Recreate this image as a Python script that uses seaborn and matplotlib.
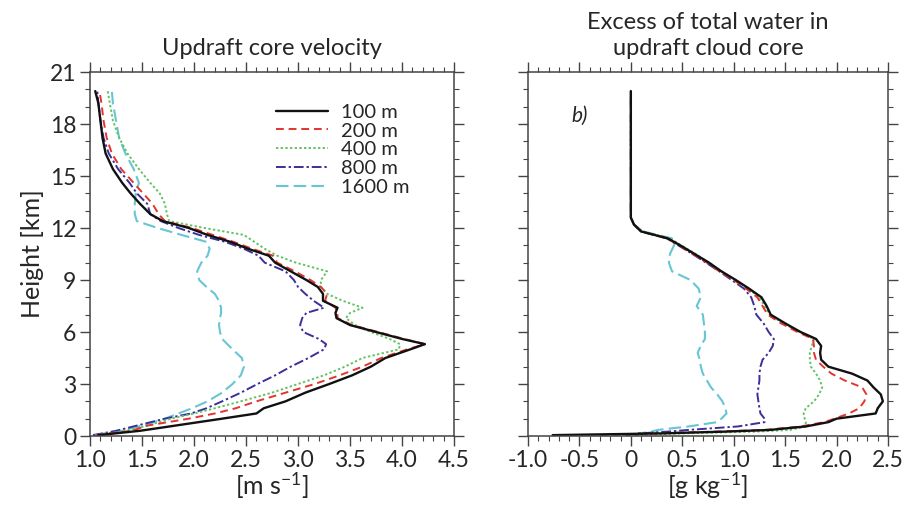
"""
Updraft core profiles for five grid resolutions: core velocity and excess total water.
"""
import numpy as np
import pandas as pd
import matplotlib
matplotlib.use("Agg")
import matplotlib.pyplot as plt
from matplotlib.ticker import MultipleLocator
import seaborn as sns

# ---- data ----
RES = ["100 m", "200 m", "400 m", "800 m", "1600 m"]

# left panel: height levels [km] and updraft core velocity [m s-1]
Z_LEFT = [0.05, 0.3, 0.6, 1.0, 1.3, 1.6, 2.0, 2.5, 3.0, 3.5, 4.0, 4.5, 5.0, 5.3, 5.6,
          6.0, 6.4, 6.8, 7.1, 7.4, 7.8, 8.2, 8.6, 9.0, 9.5, 10.0, 10.4, 10.8, 11.2, 11.6,
          12.0, 12.4, 12.8, 13.4, 14.0, 14.6, 15.4, 16.3, 17.2, 18.2, 19.2, 19.9]
W_100 = [1.08, 1.48, 1.82, 2.27, 2.60, 2.67, 2.88, 3.07, 3.30, 3.52, 3.70, 3.84, 4.08, 4.22, 4.00,
         3.75, 3.50, 3.37, 3.36, 3.38, 3.24, 3.24, 3.19, 3.08, 2.93, 2.78, 2.72, 2.52, 2.35, 2.13,
         1.95, 1.70, 1.58, 1.48, 1.39, 1.31, 1.22, 1.15, 1.12, 1.10, 1.08, 1.05]
W_200 = [1.06, 1.40, 1.55, 1.95, 2.20, 2.40, 2.60, 2.88, 3.16, 3.40, 3.62, 3.80, 4.05, 4.22, 4.02,
         3.77, 3.52, 3.38, 3.38, 3.36, 3.26, 3.28, 3.22, 3.12, 2.97, 2.80, 2.76, 2.56, 2.38, 2.18,
         1.98, 1.72, 1.66, 1.60, 1.51, 1.42, 1.30, 1.21, 1.16, 1.13, 1.11, 1.09]
W_400 = [1.05, 1.35, 1.55, 1.78, 2.00, 2.20, 2.45, 2.75, 3.00, 3.25, 3.45, 3.62, 3.97, 3.98, 3.88,
         3.70, 3.55, 3.46, 3.50, 3.62, 3.43, 3.28, 3.22, 3.22, 3.28, 2.98, 2.80, 2.68, 2.58, 2.48,
         2.10, 1.76, 1.74, 1.72, 1.67, 1.58, 1.47, 1.36, 1.28, 1.22, 1.19, 1.17]
W_800 = [1.03, 1.25, 1.45, 1.72, 1.97, 2.12, 2.27, 2.45, 2.61, 2.78, 2.93, 3.10, 3.25, 3.27, 3.20,
         3.05, 3.02, 3.04, 3.08, 3.25, 3.15, 3.07, 3.00, 2.96, 2.88, 2.68, 2.62, 2.48, 2.30, 2.05,
         1.85, 1.68, 1.58, 1.55, 1.45, 1.38, 1.27, 1.18, 1.13, 1.10, 1.08, 1.07]
W_1600 = [1.03, 1.30, 1.50, 1.72, 1.85, 1.98, 2.13, 2.27, 2.37, 2.45, 2.48, 2.46, 2.37, 2.32, 2.27,
          2.25, 2.24, 2.25, 2.26, 2.26, 2.24, 2.20, 2.12, 2.05, 2.03, 2.07, 2.13, 2.15, 2.12, 1.88,
          1.65, 1.45, 1.43, 1.43, 1.44, 1.47, 1.42, 1.34, 1.28, 1.25, 1.22, 1.21]

# right panel: height levels [km] and excess total water [g kg-1]
Z_RIGHT = [0.05, 0.15, 0.25, 0.35, 0.55, 0.8, 1.0, 1.3, 1.6, 2.0, 2.4, 2.8, 3.2, 3.6, 4.0,
           4.4, 4.8, 5.2, 5.6, 6.0, 6.5, 7.0, 7.5, 8.0, 8.5, 9.0, 9.5, 10.0, 10.5, 11.0,
           11.4, 11.8, 12.2, 12.6, 14.0, 16.0, 18.0, 19.9]
Q_100 = [-0.76, 0.30, 0.90, 1.35, 1.70, 1.92, 2.00, 2.38, 2.40, 2.45, 2.43, 2.36, 2.30, 2.15, 1.92,
         1.85, 1.84, 1.85, 1.80, 1.65, 1.50, 1.36, 1.32, 1.27, 1.15, 1.02, 0.88, 0.76, 0.62, 0.48,
         0.36, 0.10, 0.03, 0.0, 0.0, 0.0, 0.0, 0.0]
Q_200 = [-0.30, 0.20, 0.80, 1.30, 1.65, 1.88, 1.98, 2.12, 2.22, 2.27, 2.29, 2.25, 2.08, 1.95, 1.87,
         1.80, 1.78, 1.78, 1.77, 1.62, 1.46, 1.33, 1.28, 1.23, 1.12, 1.00, 0.86, 0.74, 0.60, 0.47,
         0.35, 0.10, 0.03, 0.0, 0.0, 0.0, 0.0, 0.0]
Q_400 = [0.05, 0.50, 1.20, 1.55, 1.70, 1.70, 1.69, 1.68, 1.70, 1.78, 1.83, 1.86, 1.84, 1.80, 1.75,
         1.74, 1.74, 1.76, 1.78, 1.64, 1.48, 1.35, 1.30, 1.25, 1.14, 1.01, 0.88, 0.76, 0.63, 0.49,
         0.38, 0.12, 0.03, 0.0, 0.0, 0.0, 0.0, 0.0]
Q_800 = [-0.05, 0.08, 0.35, 0.56, 1.04, 1.30, 1.30, 1.26, 1.25, 1.24, 1.23, 1.24, 1.25, 1.25, 1.26,
         1.28, 1.34, 1.38, 1.39, 1.34, 1.29, 1.22, 1.20, 1.17, 1.10, 0.98, 0.86, 0.73, 0.60, 0.46,
         0.35, 0.10, 0.03, 0.0, 0.0, 0.0, 0.0, 0.0]
Q_1600 = [0.03, 0.08, 0.20, 0.26, 0.56, 0.84, 0.88, 0.93, 0.92, 0.89, 0.84, 0.78, 0.74, 0.70, 0.68,
          0.67, 0.65, 0.68, 0.72, 0.72, 0.71, 0.70, 0.64, 0.68, 0.66, 0.58, 0.40, 0.37, 0.38, 0.42,
          0.40, 0.12, 0.03, 0.0, 0.0, 0.0, 0.0, 0.0]

COLORS = ["#111111", "#e3342f", "#63c363", "#3b2f9a", "#66c6d3"]
DASHES = ["-", (0, (4, 2.5)), (0, (1.2, 1.2)), (0, (5, 1.5, 1.2, 1.5)), (0, (6, 2.5))]
WIDTHS = [1.7, 1.4, 1.4, 1.4, 1.5]

FONT = ["Lato", "DejaVu Sans"]


def long_frame(z, series):
    rows = []
    for name, vals in zip(RES, series):
        rows.append(pd.DataFrame({"height": z, "value": vals, "res": name}))
    return pd.concat(rows, ignore_index=True)


def style_axis(ax, xlim, xticks, xlabels, show_y):
    ax.set_xlim(*xlim)
    ax.set_ylim(0, 21)
    ax.set_xticks(xticks)
    ax.set_xticklabels(xlabels)
    ax.set_yticks(np.arange(0, 22, 3))
    ax.xaxis.set_minor_locator(MultipleLocator(0.1))
    ax.yaxis.set_minor_locator(MultipleLocator(1))
    ax.tick_params(which="both", direction="out", top=True, right=True,
                   color="#444444", labelsize=16.5, pad=3)
    ax.tick_params(which="major", length=7, width=1.0)
    ax.tick_params(which="minor", length=3.5, width=0.8)
    if not show_y:
        ax.tick_params(axis="y", labelleft=False)
    for sp in ax.spines.values():
        sp.set_visible(True)
        sp.set_color("#444444")
        sp.set_linewidth(1.1)


def main():
    sns.set_style("ticks")
    plt.rcParams["font.family"] = FONT
    plt.rcParams["mathtext.default"] = "regular"
    plt.rcParams["axes.unicode_minus"] = False

    fig = plt.figure(figsize=(9.03, 5.18), dpi=100)
    ax1 = fig.add_axes([0.0997, 0.1583, 0.4031, 0.7027])
    ax2 = fig.add_axes([0.5847, 0.1583, 0.3987, 0.7027])

    left = long_frame(Z_LEFT, [W_100, W_200, W_400, W_800, W_1600])
    right = long_frame(Z_RIGHT, [Q_100, Q_200, Q_400, Q_800, Q_1600])

    # draw coarse resolutions first so the 100 m line sits on top
    for i in reversed(range(len(RES))):
        name = RES[i]
        for ax, df in ((ax1, left), (ax2, right)):
            d = df[df["res"] == name]
            sns.lineplot(data=d, x="value", y="height", sort=False, estimator=None,
                         color=COLORS[i], linewidth=WIDTHS[i], ax=ax, label=name)
            ax.lines[-1].set_linestyle(DASHES[i])

    style_axis(ax1, (1.0, 4.5), np.arange(1.0, 4.51, 0.5),
               ["1.0", "1.5", "2.0", "2.5", "3.0", "3.5", "4.0", "4.5"], True)
    style_axis(ax2, (-1.0, 2.5), np.arange(-1.0, 2.51, 0.5),
               ["-1.0", "-0.5", "0", "0.5", "1.0", "1.5", "2.0", "2.5"], False)

    ax1.set_xlabel("[m s$^{-1}$]", fontsize=18, labelpad=0)
    ax2.set_xlabel("[g kg$^{-1}$]", fontsize=18, labelpad=0)
    ax1.set_ylabel("Height [km]", fontsize=18, labelpad=4)
    ax2.set_ylabel("")
    ax1.set_title("Updraft core velocity", fontsize=17, pad=12)
    ax2.set_title("Excess of total water in\nupdraft cloud core", fontsize=17, pad=12,
                  linespacing=1.3)
    ax2.text(0.12, 0.88, "b)", transform=ax2.transAxes, fontsize=15,
             style="italic", ha="left", va="center")

    # legend only on the left panel, in 100..1600 order
    handles, labels = ax1.get_legend_handles_labels()
    order = [labels.index(n) for n in RES]
    ax1.legend([handles[k] for k in order], RES, loc="upper left",
               bbox_to_anchor=(0.489, 0.935), frameon=False, fontsize=14.5,
               handlelength=2.6, handletextpad=0.6, labelspacing=0.08, borderaxespad=0)
    if ax2.get_legend() is not None:
        ax2.get_legend().remove()

    fig.savefig("out.png", dpi=100)
    plt.close(fig)


if __name__ == "__main__":
    main()
